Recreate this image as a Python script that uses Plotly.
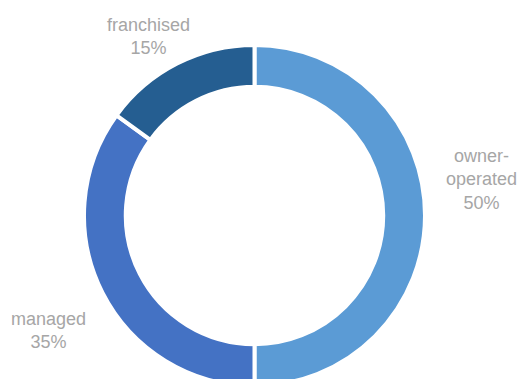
import plotly.graph_objects as go

# Data
categories = ["owner-operated", "managed", "franchised"]
values = [50, 35, 15]
label_texts = ["owner-<br>operated", "managed", "franchised"]
colors = ["#5B9BD5", "#4472C4", "#255E91"]

W, H = 519, 392
total = sum(values)

# centre / radius of donut in px (from top-left)
cx, cy, R = 254.5, 215.5, 170.5

fig = go.Figure(go.Pie(
    labels=categories,
    values=values,
    hole=0.755,
    sort=False,
    direction="clockwise",
    rotation=0,
    marker=dict(colors=colors, line=dict(color="white", width=4)),
    textinfo="none",
    hoverinfo="skip",
    showlegend=False,
    domain=dict(x=[(cx - R) / W, (cx + R) / W],
                y=[1 - (cy + R) / H, 1 - (cy - R) / H]),
))

# label positions in px (layout only)
label_pos = [(481, 179), (48, 330), (148, 37)]
for txt, v, (px, py) in zip(label_texts, values, label_pos):
    fig.add_annotation(
        x=px / W, y=1 - py / H, xref="paper", yref="paper",
        text=f"{txt}<br>{round(v / total * 100)}%",
        showarrow=False, xanchor="center", yanchor="middle", align="center",
        font=dict(family="Liberation Sans, Arial, sans-serif", size=18, color="#A6A6A6"),
    )

fig.update_layout(
    width=W, height=H,
    margin=dict(l=0, r=0, t=0, b=0, pad=0),
    paper_bgcolor="white", plot_bgcolor="white",
)

fig.write_html(
    "out.html",
    config={"displayModeBar": False},
    post_script="document.documentElement.style.overflow='hidden';document.body.style.overflow='hidden';document.body.style.margin='0';",
)
